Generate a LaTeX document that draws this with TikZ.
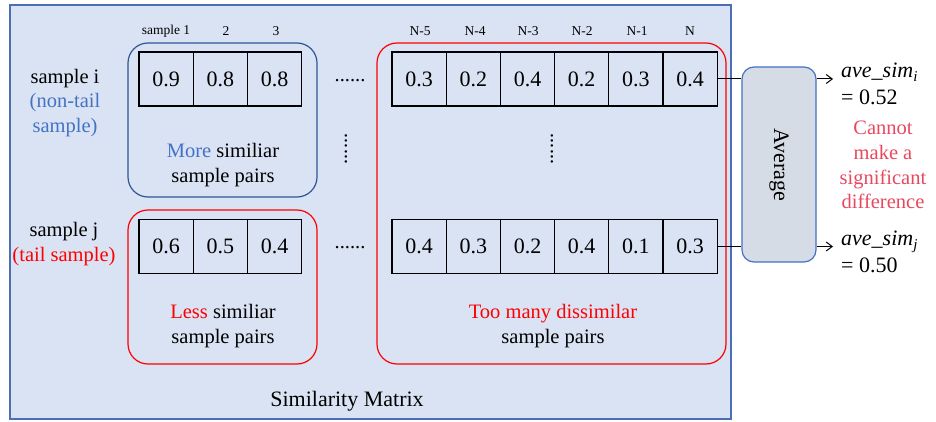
\documentclass[tikz,border=0pt]{standalone}
\usepackage{fontspec}
\setmainfont{Liberation Serif}
\newfontfamily\tnr{Liberation Serif}
\usetikzlibrary{arrows.meta}
\definecolor{bgblue}{HTML}{DAE3F3}
\definecolor{frameblue}{HTML}{4A6FB5}
\definecolor{boxblue}{HTML}{2F5597}
\definecolor{txtblue}{HTML}{4472C4}
\definecolor{avgfill}{HTML}{D6DCE5}
\definecolor{pinkred}{HTML}{E8475F}
\newcommand{\fsCell}{\tnr\fontsize{22}{26}\selectfont}
\newcommand{\fsTxt}{\tnr\fontsize{20.5}{24.5}\selectfont}
\newcommand{\fsBig}{\tnr\fontsize{22}{26.5}\selectfont}
\newcommand{\fsSmall}{\tnr\fontsize{13.5}{16}\selectfont}
\begin{document}
\begin{tikzpicture}[x=1pt,y=-1pt,
  cell/.style={draw=black,line width=1.2pt,minimum width=54.2pt,minimum height=54pt,inner sep=0pt,font=\fsCell},
  rbox/.style={draw,line width=1.2pt,rounded corners=20pt,inner sep=0pt},
  lbl/.style={font=\fsTxt,align=center,inner sep=0pt},
  head/.style={font=\fsSmall,inner sep=0pt},
  conn/.style={line width=1pt,draw=black},
  arr/.style={line width=1pt,draw=black,-{Straight Barb[length=6pt,width=9pt]}}
]
\useasboundingbox (0,0) rectangle (936,422);
% outer matrix frame
\node[draw=frameblue,fill=bgblue,line width=1.5pt,minimum width=721pt,minimum height=414pt,inner sep=0pt] (frame) at (370.5,212) {};
% rounded group boxes
\node[rbox,draw=boxblue,minimum width=189pt,minimum height=154pt] (bluebox) at (222.5,120) {};
\node[rbox,draw=red,minimum width=189pt,minimum height=154pt] (redboxj) at (222.5,287) {};
\node[rbox,draw=red,minimum width=349pt,minimum height=321pt] (redbig) at (551.5,203.5) {};
% column headers
\node[head] (h1) at (166,31) {sample 1};
\node[head] (h2) at (226,31) {2};
\node[head] (h3) at (276,31) {3};
\node[head] (h4) at (420,31) {N-5};
\node[head] (h5) at (475,31) {N-4};
\node[head] (h6) at (528,31) {N-3};
\node[head] (h7) at (582,31) {N-2};
\node[head] (h8) at (637,31) {N-1};
\node[head] (h9) at (690,31) {N};
% row i cells
\node[cell] (i1) at (166.1,79) {0.9};
\node[cell] (i2) at (220.3,79) {0.8};
\node[cell] (i3) at (274.5,79) {0.8};
\node[cell] (iA) at (419.1,79) {0.3};
\node[cell] (iB) at (473.3,79) {0.2};
\node[cell] (iC) at (527.5,79) {0.4};
\node[cell] (iD) at (581.7,79) {0.2};
\node[cell] (iE) at (635.9,79) {0.3};
\node[cell] (iF) at (690.1,79) {0.4};
% row j cells
\node[cell] (j1) at (166.1,246.5) {0.6};
\node[cell] (j2) at (220.3,246.5) {0.5};
\node[cell] (j3) at (274.5,246.5) {0.4};
\node[cell] (jA) at (419.1,246.5) {0.4};
\node[cell] (jB) at (473.3,246.5) {0.3};
\node[cell] (jC) at (527.5,246.5) {0.2};
\node[cell] (jD) at (581.7,246.5) {0.4};
\node[cell] (jE) at (635.9,246.5) {0.1};
\node[cell] (jF) at (690.1,246.5) {0.3};
% dots
\node[lbl] (dotsi) at (350,81) {......};
\node[lbl] (dotsj) at (350,248) {......};
\node[lbl,rotate=90] (vdots1) at (346,149) {......};
\node[lbl,rotate=90] (vdots2) at (552,149) {......};
% row labels
\node[lbl] (rowi) at (65,103) {sample i\\\textcolor{txtblue}{(non-tail}\\\textcolor{txtblue}{sample)}};
\node[lbl] (rowj) at (64,244) {sample j\\\textcolor{red}{(tail sample)}};
% box captions
\node[lbl] (capi) at (223,165) {\textcolor{txtblue}{More} similiar\\sample pairs};
\node[lbl] (capj) at (223,326) {\textcolor{red}{Less} similiar\\sample pairs};
\node[lbl] (capbig) at (553,326) {\textcolor{red}{Too many dissimilar}\\sample pairs};
\node[font=\fsBig,inner sep=0pt] (title) at (347,401) {Similarity Matrix};
% average box
\node[draw=txtblue,fill=avgfill,line width=1.2pt,rounded corners=12pt,minimum width=74pt,minimum height=195pt,inner sep=0pt] (avg) at (779,164.5) {};
\node[font=\fsBig,rotate=-90,inner sep=0pt] (avgtxt) at (avg.center) {Average};
% connectors
\draw[conn] (iF.east) -- (iF.east -| avg.west);
\draw[conn] (jF.east) -- (jF.east -| avg.west);
\coordinate (endi) at (833,79);
\coordinate (endj) at (833,246.5);
\draw[arr] (avg.east |- iF.east) -- (endi);
\draw[arr] (avg.east |- jF.east) -- (endj);
% results
\node[font=\fsBig,align=left,anchor=west,inner sep=0pt] (resi) at (841,84) {\textit{ave\_sim}\raisebox{-4pt}{\fontsize{15}{15}\selectfont\textit{i}}\\= 0.52};
\node[font=\fsBig,align=left,anchor=west,inner sep=0pt] (resj) at (841,252) {\textit{ave\_sim}\raisebox{-4pt}{\fontsize{15}{15}\selectfont\textit{j}}\\= 0.50};
\node[font=\tnr\fontsize{20.5}{24.8}\selectfont,align=center,text=pinkred,inner sep=0pt] (note) at (883,165) {Cannot\\make a\\significant\\difference};
\end{tikzpicture}
\end{document}
